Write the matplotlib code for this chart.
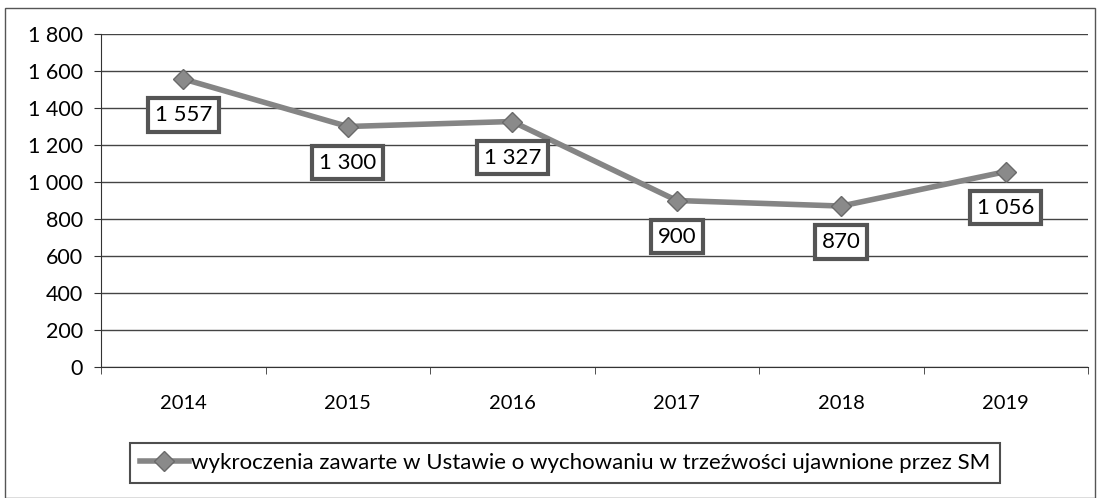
import matplotlib.pyplot as plt
from matplotlib.patches import Rectangle

years = ['2014', '2015', '2016', '2017', '2018', '2019']
values = [1557, 1300, 1327, 900, 870, 1056]
labels = ['1 557', '1 300', '1 327', '900', '870', '1 056']
yticks = [0, 200, 400, 600, 800, 1000, 1200, 1400, 1600, 1800]
ytick_labels = ['0', '200', '400', '600', '800', '1 000', '1 200', '1 400', '1 600', '1 800']
series_name = 'wykroczenia zawarte w Ustawie o wychowaniu w trzeźwości ujawnione przez SM'

plt.rcParams['font.family'] = ['Lato', 'DejaVu Sans']

fig = plt.figure(figsize=(11, 4.98), dpi=100)
ax = fig.add_axes([101 / 1100, 1 - 367 / 498, 987 / 1100, 333 / 498])

x = list(range(len(years)))
line, = ax.plot(x, values, color='#858585', lw=4, marker='D', ms=10,
                markerfacecolor='#8a8a8a', markeredgecolor='#6a6a6a', zorder=3)

for xi, v, lab in zip(x, values, labels):
    ax.annotate(lab, (xi, v), xytext=(0, -26), textcoords='offset points',
                ha='center', va='center', fontsize=16, color='black',
                bbox=dict(boxstyle='square,pad=0.3', fc='white', ec='#555555', lw=3),
                zorder=4)

ax.set_xlim(-0.5, 5.5)
ax.set_ylim(0, 1800)
ax.set_xticks(x)
ax.set_xticklabels(years, fontsize=14.5)
ax.set_yticks(yticks)
ax.set_yticklabels(ytick_labels, fontsize=15.5)
ax.yaxis.grid(True, color='#444444', lw=1)
ax.set_axisbelow(True)
for s in ['top', 'right']:
    ax.spines[s].set_visible(False)
ax.spines['left'].set_color('#333333')
ax.spines['bottom'].set_color('#333333')
ax.tick_params(axis='x', length=5, direction='in', pad=20, color='#333333')
ax.tick_params(axis='y', length=5, direction='out', pad=8, color='#333333')
ax.set_xticks([i + 0.5 for i in range(-1, 6)], minor=True)
ax.tick_params(axis='x', which='minor', length=5, direction='out', color='#333333')
ax.tick_params(axis='x', which='major', length=0)

leg = fig.legend([line], [series_name], loc='center', bbox_to_anchor=(565 / 1100, 1 - 463 / 498),
                 fontsize=16, frameon=True, fancybox=False, handlelength=2.2, borderpad=0.45,
                 handletextpad=0.1, borderaxespad=0)
leg.get_frame().set_edgecolor('#222222')
leg.get_frame().set_linewidth(1.5)

fig.patches.append(Rectangle((5 / 1100, 0), 1090 / 1100, 1 - 8 / 498, transform=fig.transFigure,
                             fill=False, ec='#555555', lw=1))

fig.savefig('out.png', dpi=100)
